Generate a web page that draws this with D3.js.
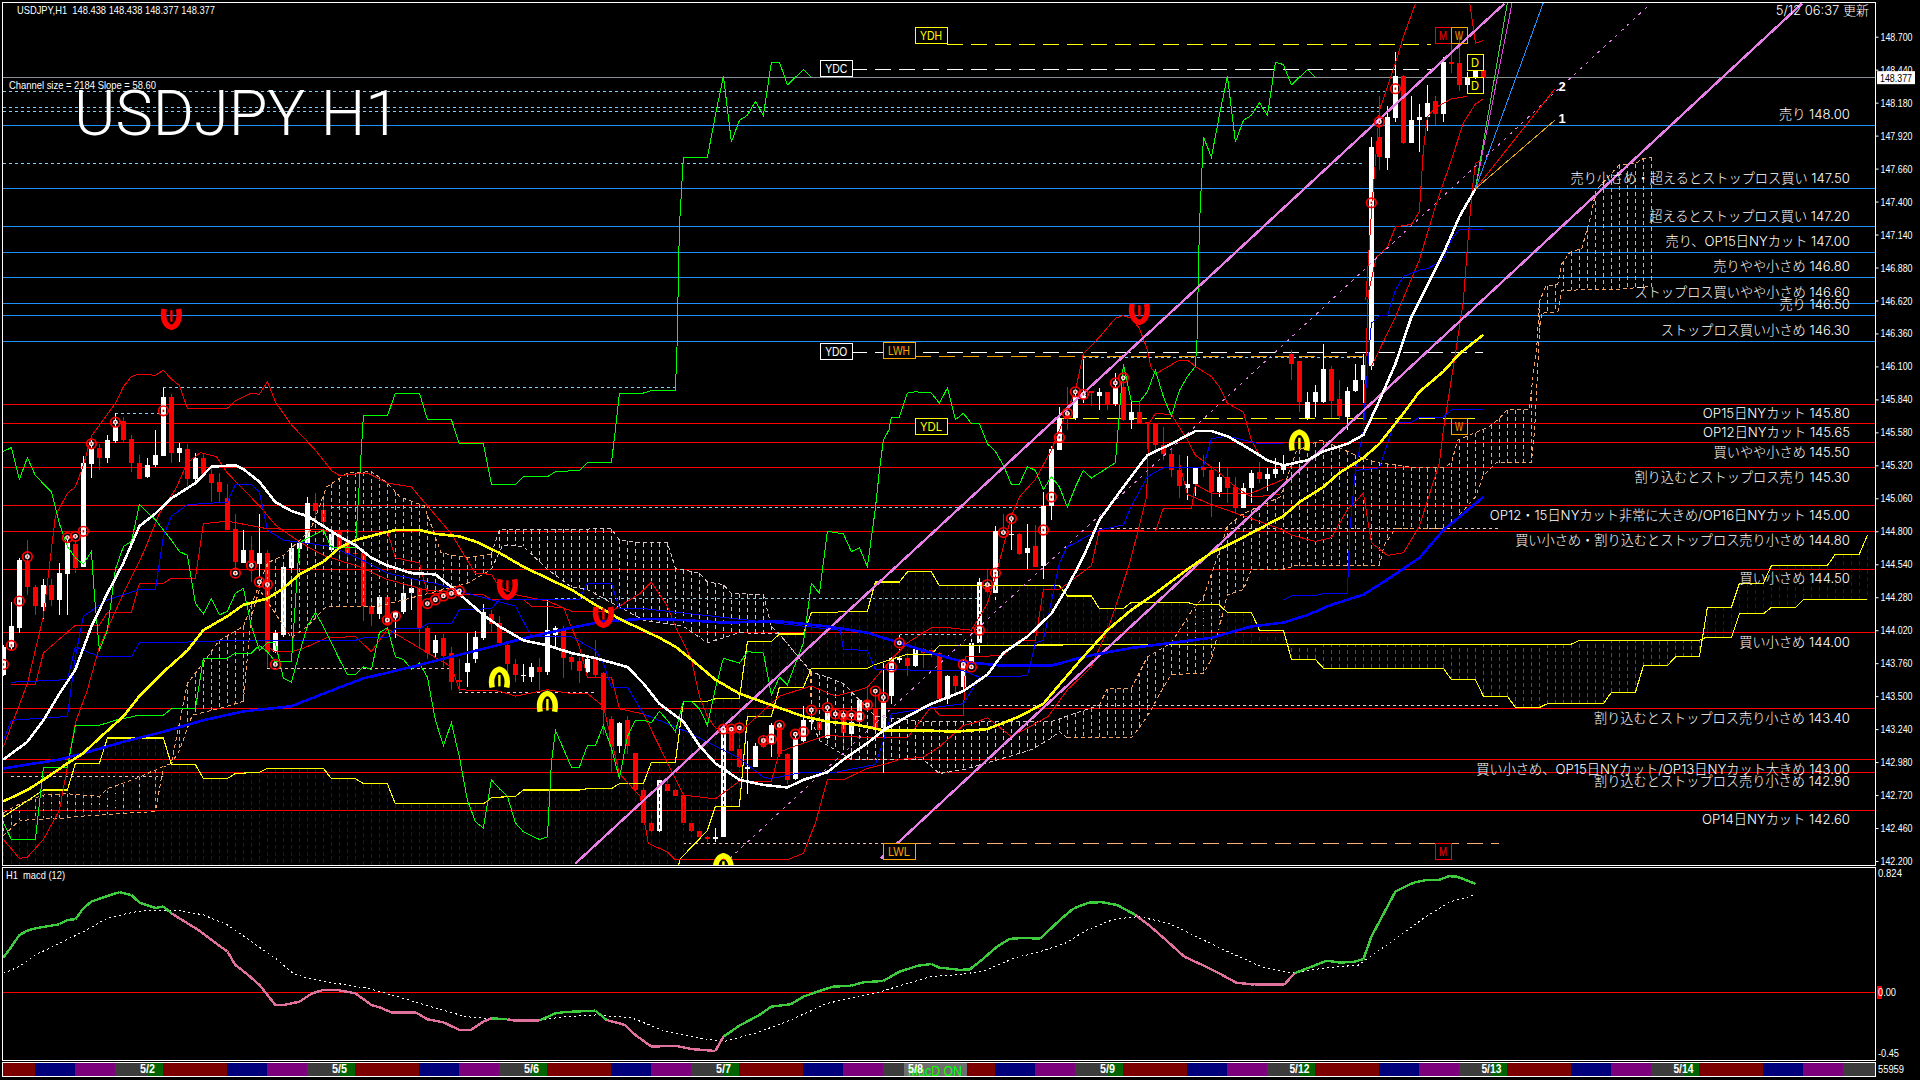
<!DOCTYPE html>
<html><head><meta charset="utf-8">
<script src="https://cdnjs.cloudflare.com/ajax/libs/d3/7.9.0/d3.min.js"></script>
<style>html,body{margin:0;background:#000;overflow:hidden}svg{display:block}</style></head><body>
<svg id="c" width="1920" height="1080"></svg>
<script>
const opens=[143.67,143.89,144.04,144.56,144.36,144.20,144.38,144.26,144.46,144.70,144.52,145.33,145.46,145.38,145.51,145.67,145.53,145.34,145.23,145.32,145.39,145.86,145.42,145.45,145.21,145.38,145.25,145.19,145.06,144.82,144.55,144.65,144.54,144.63,143.85,143.98,144.51,144.66,144.71,145.02,144.97,144.65,144.81,144.73,144.63,144.63,144.21,144.15,144.28,144.13,144.16,144.31,144.35,144.04,143.84,143.96,143.84,143.63,143.69,143.79,143.96,144.15,144.08,143.90,143.75,143.66,143.65,143.73,143.69,143.98,144.02,143.81,143.78,143.69,143.79,143.68,143.32,143.11,143.31,143.05,142.76,142.50,142.44,142.81,142.76,142.72,142.50,142.44,142.39,142.37,142.39,143.23,143.08,142.94,142.94,143.17,143.13,143.27,143.04,142.85,143.15,143.30,143.30,143.17,143.36,143.36,143.20,143.30,143.46,143.40,143.25,143.50,143.79,143.80,143.74,143.87,143.86,143.84,143.48,143.66,143.57,143.77,143.92,144.39,144.31,144.80,144.78,144.78,144.63,144.68,144.53,145.00,145.44,145.73,145.69,145.84,145.91,145.87,145.90,145.80,145.94,145.68,145.74,145.66,145.65,145.48,145.41,145.28,145.14,145.17,145.30,145.28,145.11,145.23,145.15,144.98,145.14,145.27,145.21,145.25,145.28,146.20,146.14,145.69,145.82,145.82,146.08,145.84,145.70,145.91,145.99,146.10,147.91,147.74,148.06,148.39,147.86,148.04,148.07,148.19,148.09,148.50,148.49,148.32,148.38,148.438];
const highs=[143.90,144.24,144.59,144.73,144.38,144.42,144.42,144.55,144.76,144.73,145.39,145.52,145.49,145.56,145.73,145.70,145.56,145.40,145.38,145.60,145.93,145.88,145.50,145.49,145.42,145.42,145.31,145.26,145.17,144.94,144.81,144.76,144.94,144.65,144.02,144.56,144.71,144.72,145.07,145.10,145.06,144.81,144.81,144.82,144.71,144.65,144.26,144.30,144.29,144.17,144.40,144.40,144.36,144.05,143.98,143.99,143.89,143.79,144.00,144.01,144.23,144.18,144.13,143.92,143.79,143.75,143.76,143.80,144.26,144.05,144.05,143.84,143.81,143.81,143.94,143.69,143.34,143.30,143.34,143.05,142.84,142.58,142.86,142.86,142.77,142.73,142.51,142.46,142.40,142.46,143.27,143.26,143.26,143.15,143.13,143.19,143.29,143.30,143.05,143.22,143.42,143.40,143.31,143.43,143.39,143.38,143.36,143.48,143.57,143.55,143.76,143.81,144.00,143.84,143.89,143.88,143.88,143.85,143.67,143.67,143.79,143.98,144.43,144.50,144.84,144.94,144.94,144.79,144.86,144.85,145.11,145.47,145.78,145.94,145.89,146.16,145.91,145.93,145.90,146.05,146.00,145.82,145.82,145.66,145.65,145.62,145.45,145.40,145.39,145.31,145.40,145.30,145.35,145.30,145.23,145.18,145.28,145.35,145.30,145.38,145.40,146.23,146.14,145.90,145.95,146.28,146.10,145.99,145.94,146.12,146.20,147.91,148.23,148.15,148.58,148.40,148.23,148.17,148.32,148.23,148.54,148.69,148.70,148.42,148.44,148.438];
const lows=[143.66,143.86,144.00,144.30,144.14,144.11,144.21,144.14,144.14,144.47,144.52,145.22,145.28,145.34,145.50,145.50,145.27,145.21,145.22,145.31,145.39,145.34,145.35,145.14,145.17,145.23,145.03,145.03,144.81,144.50,144.55,144.40,144.44,143.72,143.84,143.97,144.47,144.63,144.69,144.93,144.86,144.64,144.57,144.50,144.57,144.09,144.05,144.11,144.07,143.96,144.15,144.18,143.88,143.79,143.80,143.73,143.55,143.54,143.57,143.76,143.94,144.00,143.90,143.67,143.61,143.61,143.61,143.55,143.67,143.89,143.64,143.71,143.60,143.68,143.64,143.19,142.90,143.05,143.04,142.76,142.50,142.40,142.42,142.73,142.71,142.48,142.43,142.37,142.35,142.35,142.39,143.06,142.93,142.73,142.94,143.09,143.02,143.02,142.81,142.84,143.14,143.23,143.22,143.16,143.29,143.11,143.11,143.29,143.38,143.23,142.89,143.44,143.76,143.66,143.73,143.72,143.81,143.47,143.44,143.51,143.54,143.76,143.84,144.31,144.26,144.77,144.65,144.61,144.50,144.52,144.42,144.89,145.44,145.60,145.68,145.81,145.79,145.76,145.76,145.79,145.67,145.61,145.65,145.45,145.41,145.36,145.23,145.06,145.05,145.08,145.23,144.91,145.07,145.02,144.94,144.98,145.02,145.18,145.12,145.22,145.25,145.99,145.74,145.68,145.70,145.81,145.69,145.68,145.60,145.90,145.81,146.07,147.65,147.65,148.03,147.85,147.86,147.79,147.96,148.00,148.03,148.41,148.27,148.30,148.37,148.377];
const closes=[143.89,144.05,144.57,144.36,144.21,144.38,144.26,144.47,144.71,144.51,145.34,145.46,145.38,145.52,145.62,145.52,145.34,145.21,145.32,145.40,145.86,145.42,145.46,145.21,145.38,145.25,145.18,145.11,144.81,144.56,144.65,144.55,144.63,143.85,144.00,144.52,144.67,144.71,145.02,144.96,144.87,144.78,144.67,144.62,144.62,144.21,144.15,144.28,144.07,144.16,144.31,144.35,144.04,143.84,143.94,143.82,143.61,143.61,143.76,143.97,144.16,144.07,143.92,143.75,143.67,143.67,143.73,143.69,144.02,144.04,143.80,143.77,143.70,143.79,143.67,143.39,143.11,143.29,143.11,142.76,142.50,142.44,142.84,142.75,142.71,142.50,142.44,142.39,142.37,142.39,143.25,143.07,142.94,142.94,143.11,143.10,143.27,143.04,142.84,143.17,143.31,143.31,143.23,143.38,143.34,143.21,143.30,143.47,143.40,143.25,143.46,143.80,143.80,143.74,143.87,143.84,143.84,143.48,143.66,143.58,143.77,143.92,144.40,144.32,144.80,144.78,144.78,144.62,144.67,144.52,145.00,145.45,145.69,145.69,145.86,145.87,145.89,145.90,145.80,145.94,145.68,145.74,145.65,145.65,145.48,145.41,145.28,145.16,145.17,145.30,145.28,145.11,145.23,145.14,144.98,145.14,145.26,145.21,145.25,145.29,145.33,146.12,145.82,145.82,145.90,146.08,145.83,145.71,145.91,145.99,146.11,147.83,147.75,148.07,148.39,147.86,148.04,148.07,148.18,148.09,148.50,148.49,148.32,148.38,148.43,148.377];

const priceTicks=[148.7,148.44,148.18,147.92,147.66,147.4,147.14,146.88,146.62,146.36,146.1,145.84,145.58,145.32,145.06,144.8,144.54,144.28,144.02,143.76,143.5,143.24,142.98,142.72,142.46,142.2];
const lastPrice=148.377;
const blueLevels=[148,147.5,147.2,147,146.8,146.6,146.5,146.3];
const blueTexts=["売り","売り小さめ・超えるとストップロス買い","超えるとストップロス買い","売り、OP15日NYカット","売りやや小さめ","ストップロス買いやや小さめ","売り","ストップロス買い小さめ"];
const redLevels=[145.8,145.65,145.5,145.3,145,144.8,144.5,144,143.4,143,142.9,142.6];
const redTexts=["OP15日NYカット","OP12日NYカット","買いやや小さめ","割り込むとストップロス売り","OP12・15日NYカット非常に大きめ/OP16日NYカット","買い小さめ・割り込むとストップロス売り小さめ","買い小さめ","買い小さめ","割り込むとストップロス売り小さめ","買い小さめ、OP15日NYカット/OP13日NYカット大きめ","割り込むとストップロス売り小さめ","OP14日NYカット"];

const whiteMA=[[0,143],[3,143.14],[5,143.31],[7,143.52],[9,143.71],[11,144.05],[13,144.31],[15,144.55],[17,144.84],[19,144.94],[21,145.06],[24,145.18],[26,145.31],[29,145.32],[30,145.29],[32,145.19],[34,145.03],[36,144.96],[38,144.92],[40,144.84],[42,144.76],[44,144.69],[46,144.59],[48,144.53],[51,144.47],[54,144.46],[56,144.36],[58,144.25],[60,144.14],[62,144.05],[65,143.94],[68,143.9],[71,143.84],[74,143.8],[78,143.73],[80,143.6],[82,143.44],[85,143.3],[87,143.11],[89,142.97],[92,142.84],[95,142.8],[98,142.78],[100,142.84],[103,142.9],[105,143],[108,143.13],[110,143.23],[113,143.34],[116,143.44],[120,143.54],[123,143.67],[125,143.84],[128,143.97],[131,144.15],[133,144.36],[135,144.6],[137,144.89],[140,145.15],[143,145.4],[146,145.49],[149,145.59],[151,145.59],[153,145.55],[156,145.44],[158,145.36],[160,145.32],[163,145.36],[165,145.43],[168,145.49],[170,145.56],[172,145.83],[174,146.12],[176,146.49],[180,146.99],[182,147.28],[184,147.5]];
const yellowMA=[[0,142.67],[3,142.76],[5,142.84],[8,142.97],[10,143.05],[12,143.17],[15,143.34],[17,143.5],[20,143.69],[23,143.86],[25,144.02],[28,144.13],[30,144.22],[33,144.27],[35,144.35],[37,144.46],[40,144.56],[42,144.67],[44,144.73],[47,144.78],[49,144.81],[52,144.81],[54,144.78],[57,144.76],[59,144.72],[62,144.63],[65,144.52],[68,144.43],[71,144.34],[74,144.22],[77,144.11],[80,144.02],[82,143.96],[84,143.89],[86,143.79],[89,143.63],[92,143.52],[96,143.43],[100,143.34],[103,143.3],[107,143.27],[110,143.23],[115,143.23],[119,143.22],[123,143.24],[127,143.34],[130,143.44],[132,143.59],[135,143.81],[138,144.02],[141,144.18],[144,144.31],[148,144.5],[151,144.63],[154,144.72],[157,144.82],[160,144.92],[162,145.03],[165,145.15],[167,145.26],[170,145.38],[172,145.49],[175,145.73],[177,145.9],[180,146.06],[182,146.2],[185,146.35]];
const blueMA=[[0,142.93],[7,143],[10,143.05],[15,143.14],[20,143.22],[25,143.31],[30,143.38],[36,143.42],[40,143.52],[45,143.64],[51,143.73],[56,143.81],[61,143.89],[66,143.97],[71,144.04],[75,144.09],[80,144.11],[85,144.1],[90,144.08],[97,144.09],[103,144.05],[108,144],[112,143.92],[116,143.84],[120,143.77],[125,143.74],[131,143.74],[135,143.81],[141,143.88],[146,143.92],[151,143.96],[156,144.05],[160,144.08],[163,144.14],[166,144.22],[170,144.3],[173,144.42],[177,144.59],[180,144.81],[185,145.07]];
const greenSpike=[[0,145.43],[1,145.46],[2,145.21],[3,145.38],[4,145.24],[6,145.11],[7,144.86],[8,144.68],[9,144.59],[10,144.54],[11,144.64],[11.4,144.28],[12,143.86],[13,144.02],[14,144.5],[15,144.68],[16,144.72],[17,145.01],[19,144.89],[21,144.73],[22,144.64],[23,144.61],[24,144.23],[25,144.15],[26,144.27],[27,144.14],[28,144.17],[29,144.31],[30,144.35],[31,144.05],[32,143.86],[33,143.92],[34,143.92],[35,143.64],[36,143.61],[37,143.84],[38,144.05],[39,144.16],[40,144.05],[42,143.79],[43,143.67],[44,143.67],[45,143.73],[46,143.71],[47,144],[48,144.04],[49,143.81],[50,143.79],[51,143.71],[52,143.76],[53,143.65],[54,143.31],[55,143.11],[56,143.29],[57,143.02],[58,142.68],[59,142.51],[60,142.46],[61,142.84],[62,142.77],[63,142.71],[64,142.5],[65,142.43],[67,142.37],[68,142.39],[68.5,142.97],[69,143.23],[71,142.94],[72,142.94],[73,143.11],[74,143.11],[75,143.27],[76,143.09],[77,142.85],[78,143.18],[79,143.31],[80,143.31],[81,143.29],[82,143.38],[83,143.31],[84,143.22],[85,143.46],[86,143.46],[87,143.4],[88,143.27],[89,143.56],[90,143.8],[92,143.76],[93,143.85],[95,143.84],[96,143.51],[97,143.65],[98,143.59],[100,143.92],[101,144.39],[102,144.31],[103,144.8],[105,144.78],[106,144.64],[107,144.67],[108,144.52],[109,144.98],[109.5,145.28],[110,145.52],[110.7,145.6],[111,145.7],[112,145.7],[113,145.89],[114,145.9],[116,145.89],[117,145.81],[118,145.93],[119,145.68],[120,145.73],[121,145.65],[122,145.65],[122.3,145.6],[123,145.49],[124,145.43],[125,145.32],[126,145.17],[127,145.17],[128,145.31],[129,145.28],[130,145.13],[131,145.23],[132,145.15],[133,144.99],[134,145.15],[135,145.28],[136,145.22],[139,145.34],[139.6,145.81],[140,146.12],[141,145.82],[142,145.82],[143,145.9],[144,146.07],[145,145.86],[146,145.71],[147,145.91],[148,146.02],[149,146.1],[149.2,146.31],[149.5,147.2],[150,147.91],[151,147.75],[152,148.08],[153,148.39],[154,147.87],[155,148.04],[156,148.08],[157,148.18],[158,148.08],[159,148.5],[160,148.48],[161,148.32],[163,148.44],[164,148.38]];
const greenStep=[[0,142.5],[1,142.37],[4,142.37],[5,142.94],[8,142.94],[9,143.27],[12,143.27],[14,143.31],[17,143.35],[20,143.35],[21,143.4],[24,143.4],[25,143.8],[28,143.8],[29,143.84],[31,143.84],[32,143.9],[33,143.85],[34,143.77],[36,143.77],[37,144.71],[40,144.81],[41,144.67],[44,144.67],[45,145.71],[48,145.71],[49,145.89],[52,145.89],[53,145.68],[56,145.68],[57,145.49],[60,145.49],[61,145.17],[64,145.17],[65,145.23],[68,145.23],[69,145.27],[72,145.28],[73,145.34],[76,145.34],[76.5,145.6],[77,145.89],[80,145.89],[81,145.91],[84,145.91],[84.2,146.25],[84.5,147.2],[85,147.75],[88,147.75],[89,148.08],[90,148.39],[91,147.87],[92,148.04],[93,148.08],[94,148.19],[95,148.08],[96,148.5],[97,148.5],[98,148.32],[100,148.44],[101,148.38]];
const redUpper=[[0,143.1],[3,143.6],[5,144.13],[6.5,144.92],[8,145.1],[9,145.15],[10,145.32],[11,145.55],[14,145.81],[15,145.94],[16,146.02],[17,146.04],[19,146.03],[20,146.07],[21,146],[22,145.95],[23,145.77],[28,145.77],[29,145.83],[31,145.89],[32,145.88],[33,145.98],[34,145.82],[36,145.64],[39,145.44],[41,145.28],[42,145.24],[45.5,145.26],[48,145.18],[51,145.15],[53,145],[56,144.78],[58,144.57],[59,144.47],[61,144.46],[62,144.36],[64,144.3],[68,144.25],[71,144.17],[76,144.17],[79.6,144.31],[81,144.4],[83,144.21],[84,144.05],[86,143.79],[87,143.5],[88,143.34],[89,143.25],[92,143.22],[93,143.27],[97,143.5],[101,143.58],[104,143.5],[107,143.55],[108,143.57],[111,143.79],[113,143.92],[116,144.04],[118,144.04],[121,144.02],[123,144.23],[124,144.44],[126,144.92],[127,145.07],[129,145.21],[131,145.44],[134,145.91],[135,146.2],[137,146.33],[139,146.48],[140,146.5],[141,146.48],[142,146.4],[143,146.23],[143.4,146.1],[144,146.04],[147,146.15],[148,146.15],[149,146.1],[151,146.02],[152,145.94],[153,145.81],[155,145.74],[156,145.52],[157,145.4]];
const redInner=[[0,142.37],[2,142.22],[3,142.23],[5,142.37],[7,142.6],[8,142.94],[9,143.29],[10.5,143.55],[12,143.89],[15,144.31],[17.5,144.63],[19.5,144.94],[21.5,145.13],[23,145.34],[24.6,145.42],[26.6,145.39],[28,145.26],[30,145.13],[32,145],[34,144.85],[36,144.76],[38,144.68],[40,144.61],[44.5,144.52],[48,144.42],[52.6,144.34],[57,144.31]];
const redLower=[[33,143.89],[34,143.85],[36,143.85],[37.6,143.88],[40.4,143.96],[44,143.97],[46,143.85],[48,144.03],[52,143.88],[56,143.73],[57,143.55],[62,143.54],[64,143.5],[68,143.55],[71,143.52],[73,143.52],[75,143.42],[77,142.89],[79.6,142.71],[80.6,142.34],[83,142.27],[84,142.21],[98,142.21],[100,142.26],[101.5,142.5],[103,142.84],[105,142.84],[108,142.93],[110.5,142.97],[112,143],[115,143.02],[117,143.1],[120,143.27],[121.4,143.29],[123,143.33],[126,143.18],[128.6,143.27],[130.6,143.34],[133,143.55],[136,143.73],[138.3,144.07],[140.8,144.55],[142.9,145.07],[143.2,145.65],[144,145.73],[146,145.72],[148,145.52],[149,145.4],[152,145.26],[154,145.15],[156,145.07],[159.6,145.09]];
const redLateLower=[[147,145.34],[148,145.09],[151,145.01],[156,144.9],[160,144.81],[161,144.77],[164,144.72],[166,144.75],[168,144.97],[170,145.1],[171,144.71],[173,144.61],[175,144.63],[177,144.84],[179.5,145.34],[180,145.6],[181.5,146.2],[182.5,146.62],[183,147.04],[183.6,147.49],[184,147.7],[184.8,147.73]];
const redLateMid=[[170,145.6],[170.6,146.67],[171.6,146.96],[173,147.04],[174,147.2],[176,147.22],[177,147.32],[177.5,147.81],[178,148.07],[179,148.14],[181,148.21],[183,148.23]];
const redLateUpper=[[183.3,148.96],[183.8,148.74],[184,148.65],[185,148.67]];
const redRise=[[171,146.1],[174,146.49],[177,146.94],[179,147.36],[181,147.73],[182.5,148.02],[184,148.17],[185,148.21]];
const redTop=[[170.3,146.62],[171,147.31],[172,148.12],[174,148.49],[175,148.7],[176.5,148.96]];
const redStep=[[1,143.59],[4,143.59],[5,143.84],[9,144.06],[12,144.06],[13,144.16],[16,144.16],[17,144.39],[20,144.39],[21,144.43],[24,144.43],[25,144.86],[28,144.88],[33,144.82],[40,144.81],[44,144.8],[48,144.8],[49,144.59],[52,144.55],[53,144.31],[60,144.3],[61,144.26],[65,144.26],[66,144.21],[70,144.2],[72,143.89],[73,143.65],[76,143.65],[77,143.4],[80,143.36],[85,142.72],[89,142.69],[92,142.83],[96,142.83],[97,143.06],[100,143.13],[103,143.19],[109,143.17],[113,143.17],[116,143.42],[117,143.35],[120,143.35],[120.3,143.81],[125,143.82],[127,143.94],[129,143.94],[130,144.34],[132,144.34],[136,144.53],[137,144.81],[144,144.8],[145,144.98],[148.5,144.98],[149,145.17],[151,145.1],[156,145.1],[160,145.21]];
const blueThinA=[[0,143.15],[1,143.31],[8,143.34],[9,143.81],[10,144.13],[13,144.26],[17,144.34],[19,144.34],[20,144.76],[21,144.92],[23,145.01],[28,145.03],[29,145.17],[31,145.17],[32,145.11],[33,144.81],[35,144.73],[41,144.68],[45,144.57],[48,144.47],[53,144.4],[54,144.39],[58,144.31],[61,144.26],[64,144.21],[66,143.97],[71,143.97],[74,143.86],[75,143.76],[76,143.57],[78,143.57],[80,143.36],[85,143.23],[92,143.01],[95,142.86],[96,142.85],[100,142.9],[104,142.9],[109,142.96],[110,143.15],[111,143.36],[115,143.4],[120,143.44],[122,143.65],[128,143.66],[129,143.92],[130,143.94],[132,144.55],[133,144.68],[134,144.71],[137,144.81],[140,144.85],[141,145],[143,145.23],[145,145.3],[149,145.3],[150,145.31],[151,145.53],[153,145.55],[157,145.49],[160,145.49]];
const blueThinB=[[1,143.61],[8,143.63],[9,143.89],[12,143.81],[16,143.81],[17,143.92],[20,143.92],[29,143.94],[44,143.94],[45,143.96],[48,143.96],[49,144.03],[52,144.03],[53,144.07],[56,144.07],[57,144.18],[61,144.19],[62,144.26],[72,144.26],[73,144.39],[76,144.39],[77,144.19],[80,144.19],[104.6,144.02],[105,143.87],[108,143.86],[109,143.71],[120,143.7],[122,143.65]];
const blueThinC=[[160,144.26],[161,144.29],[164,144.29],[165,144.31],[168,144.31],[168.3,144.81],[169,145.28],[172,145.3],[173.6,145.6],[174,145.66],[176,145.66],[177,145.7],[180,145.7],[181,145.76],[185,145.76]];
const blueThinD=[[169,145.28],[170,145.6],[170.3,145.91],[171,146.44],[172,146.5],[173,146.5],[174,146.7],[175,146.81],[177,146.86],[178,146.87],[180,146.94],[181,147.1],[182,147.18],[185,147.18]];
const spanA=[[0,142.55],[5,142.76],[8,142.76],[9,142.97],[12,142.97],[13,143.17],[20,143.17],[21,142.96],[24,142.96],[25,142.85],[28,142.85],[29,142.89],[32,142.9],[33,142.93],[40,142.93],[41,142.85],[44,142.85],[45,142.81],[48,142.81],[49,142.65],[56,142.65],[57,142.65],[60,142.65],[61,142.7],[64,142.71],[65,142.76],[72,142.76],[73,142.77],[76,142.77],[77,142.81],[80,142.81],[81,142.98],[84,142.98],[85,143.46],[88,143.46],[89,143.48],[92,143.48],[93,143.93],[96,143.93],[97,143.99],[100,143.99],[101,144.16],[104,144.16],[105,144.17],[108,144.17],[109,144.4],[112,144.4],[113,144.48],[116,144.48],[117,144.37],[132,144.37],[133,144.29],[136,144.29],[137,144.19],[140,144.19],[141,144.24],[148,144.24],[149,144.22],[152,144.22],[153,144.16],[156,144.16],[157,144.02],[160,144.02],[160.5,143.91],[161,143.79],[164,143.79],[165,143.72],[180,143.72],[181,143.63],[184,143.63],[185,143.5],[188,143.5],[189,143.41],[192,143.41],[193,143.44],[200,143.44],[201,143.53],[204,143.53],[205,143.74],[208,143.74],[209,143.81],[212,143.81],[213,144.2],[216,144.2],[217,144.39],[220,144.39],[221,144.53],[228,144.53],[229,144.62],[232,144.62],[233,144.77]];
const spanB=[[0,141.9],[84,141.9],[84.5,142.21],[88,142.44],[89,142.63],[92,142.63],[93,143.34],[96,143.34],[97,143.57],[100,143.57],[101,143.72],[108,143.72],[109,143.75],[113,143.83],[116,143.83],[117,143.9],[160,143.91],[196,143.91],[197,143.94],[212,143.94],[212.7,143.96],[216,143.96],[217,144.15],[220,144.15],[221,144.2],[224,144.2],[225,144.26],[233,144.26]];
const htfUpper=[[0,142.58],[2,142.65],[5,142.72],[8,142.73],[12,142.71],[13,142.77],[17,142.86],[19,142.92],[21,142.97],[21.3,143.07],[23,143.6],[24.6,143.73],[27,143.94],[30,144.05],[33,144.55],[35,144.61],[38.4,144.81],[40.4,145.15],[43,145.26],[46,145.27],[48,145.18],[49.6,145.07],[52.6,145],[53.7,144.81],[54.7,144.63],[58,144.59],[61,144.62],[62,144.81],[76,144.82],[77,144.73],[79.6,144.71],[83,144.71],[84,144.51],[87,144.47],[88,144.4],[90,144.38],[91,144.31],[95,144.3],[96,144.05],[97,143.99],[101,143.69],[103,143.65],[105,143.6],[109,143.34],[115,143.3],[131,143.3],[137,143.43],[138,143.56],[141,143.56],[143,143.81],[146,143.92],[148.5,144.17],[150,144.28],[151.5,144.55],[153,144.84],[155,144.94],[159.6,145.07],[161.6,145.43],[164.7,145.52],[168,145.43],[169.8,145.38],[171.8,145.34],[177,145.3],[180,145.3],[181,145.34],[181.8,145.52],[185.6,145.62],[187,145.69],[188,145.76],[190.7,145.76],[191.7,146.28],[192,146.61],[192.8,146.73],[194.3,146.75],[194.8,146.91],[195.8,147],[197.3,147.03],[198.4,147.28],[199.1,147.49],[202,147.69],[204,147.7],[205,147.74],[206,147.75]];
const htfLower=[[0,142.4],[2,142.52],[8,142.54],[9,142.55],[16,142.58],[19,142.59],[20,142.94],[21,142.97],[22,143.07],[23.6,143.35],[28,143.42],[30,143.46],[30.5,143.81],[31,144.13],[32,144.34],[36,143.96],[38,144.05],[40.4,144.21],[47,144.21],[58,144.39],[61,144.5],[62.4,144.69],[65,144.68],[68,144.5],[71,144.36],[73,144.34],[80,144.1],[85,144.05],[88,143.92],[92,144],[97,143.99],[100.9,143.69],[101,143.31],[102,143.15],[106,143],[115,143],[117,142.89],[120,142.92],[125,143.01],[128.6,143.08],[131,143.17],[132,143.22],[133,143.17],[141,143.17],[143,143.34],[145,143.57],[146,143.67],[150,143.68],[151,143.79],[153,144.3],[155,144.34],[156,144.5],[160,144.5],[161.6,144.53],[172,144.53],[172.6,144.69],[174,144.82],[180.5,144.82],[184,145.07],[185,145.24],[186.6,145.34],[191,145.34],[191.4,145.6],[192,146.36],[192.3,146.52],[194.3,146.53],[194.8,146.7],[202,146.71],[206,146.73]];
const htfBearRanges=[[61,97],[101,132]];
const cyanLevels=[[0,173,148.27],[0,172,148.14],[0,172,148.11],[0,170,147.7],[20,84,145.93],[14,20,145.73],[135,170,146.17],[41,130,144.99],[69,122,144.27],[112,120,143.99]];
const pinkLevels=[[33,56,143.72],[57,74,143.53],[1,20,142.87],[122,187,143.43],[85,114,142.34],[137,187,144.82]];
const dashLevels=[[106,178.5,148.44,"#fff"],[118,178.5,148.64,"#ff0"],[106,185,146.21,"#fff"],[114,170,146.18,"orange"],[132,184,145.69,"#ff0"],[114,187,142.34,"#ffb070"]];
const tagNames=["YDH","YDC","YDO","LWH","YDL","LWL","M","W","M","D","D","W"];
const tagBars=[113.95,102.1,102.1,109.95,113.95,109.95,178.95,180.95,178.95,182.95,182.95,180.95];
const tagPrices=[148.77,148.51,146.28,146.29,145.69,142.34,148.77,148.77,142.34,148.56,148.38,145.69];
const tagColors=["#ff0","#fff","#fff","orange","#ff0","orange","#f00","orange","#f00","#ff0","#ff0","orange"];
const ringMarks=[[0,143.75],[1,143.9],[2,144.25],[3,144.6],[8,144.75],[9,144.76],[10,144.8],[11,145.49],[14,145.66],[20,145.75],[29,144.47],[31,144.53],[32,144.4],[33,144.38],[34,143.75],[48,144.1],[49,144.13],[53,144.23],[54,144.26],[55,144.29],[56,144.31],[57,144.33],[90,143.24],[91,143.24],[92,143.25],[95,143.15],[96,143.16],[97,143.27],[99,143.2],[100,143.22],[101,143.39],[103,143.41],[104,143.36],[105,143.35],[106,143.35],[107,143.34],[108,143.43],[109,143.54],[110,143.49],[111,143.73],[112,143.92],[120,143.75],[121,143.73],[122,144.02],[123,144.38],[124,144.47],[125,144.79],[126,144.9],[130,144.81],[131,145.07],[132,145.54],[133,145.73],[134,145.9],[135,145.88],[139,145.97],[140,146.01],[171,147.39],[172,148.03],[174,148.29]];
const sellArrows=[[21,146.48],[142,146.52],[63,144.35],[75,144.13]];
const buyArrows=[[62,143.64],[68,143.45],[162,145.51],[90,142.17]];
const channelLines=[[71.5,142.18,187.6,148.96],[109.7,142.22,224.8,148.96]];
const channelMid=[90.8,142.22,205.9,148.96];
const fanOrigin=[184,147.5];
const fanEnds=[[188.6,148.97,"#e040e0"],[188,148.97,"#40d040"],[192.5,148.97,"#1e90ff"],[193.9,148.285,"#f00"],[193.9,148.04,"#daa520"]];
const fanLabels=[["2",148.3],["1",148.05]];
const macdLine=[[0,.24],[1,.316],[2,.397],[3,.427],[4,.443],[6,.462],[7,.471],[8,.501],[9,.506],[10,.582],[11,.628],[13,.667],[14.5,.693],[16,.674],[17,.621],[19,.584],[20,.594],[21,.547],[23,.478],[24.5,.427],[26,.363],[28,.282],[29,.189],[30.6,.12],[32,.051],[33,-.018],[34,-.088],[35,-.088],[37,-.065],[38.6,-.007],[40,.016],[41.7,.016],[44,-.007],[46,-.088],[47,-.104],[48.6,-.141],[51.6,-.141],[53,-.187],[55,-.208],[57,-.261],[58.4,-.261],[60,-.203],[61,-.18],[63,-.187],[64,-.196],[67,-.196],[69,-.145],[70.4,-.136],[74,-.127],[75.4,-.192],[77.7,-.226],[79,-.296],[81,-.376],[84,-.37],[86,-.393],[89,-.406],[90,-.307],[92,-.231],[94.5,-.157],[96,-.099],[98.4,-.083],[100,-.03],[102,.009],[103.7,.039],[106,.046],[107.5,.069],[110,.079],[112,.143],[114.4,.185],[116,.196],[117,.171],[119.6,.155],[120.8,.159],[122.3,.224],[124.2,.316],[125.8,.37],[127.3,.376],[129.6,.372],[132.3,.513],[133.8,.582],[135.7,.621],[137.3,.624],[139.2,.605],[141.5,.536],[143.4,.455],[145.3,.363],[147.6,.247],[150.3,.178],[151.8,.136],[154.1,.067],[156.4,.053],[160.1,.053],[161.4,.132],[163.3,.173],[165.4,.219],[167.1,.206],[168.7,.21],[170,.229],[171,.386],[174,.697],[176.3,.76],[177.9,.778],[179.4,.778],[180.7,.804],[181.7,.801],[184,.751]];
const macdSignal=[[0,.132],[2,.178],[4,.259],[7,.339],[10,.42],[13,.513],[16,.552],[18,.57],[22,.566],[25,.536],[28,.467],[31,.351],[34,.236],[36.3,.127],[38.6,.09],[42.4,.055],[45.5,.028],[49.3,-.03],[53,-.092],[57.8,-.169],[60.8,-.182],[67,-.196],[70,-.169],[74,-.157],[78.5,-.176],[82.3,-.261],[86,-.307],[90,-.342],[94,-.284],[98.4,-.192],[103,-.076],[109,-.007],[113,.062],[116,.109],[119.6,.122],[122.7,.15],[126.5,.24],[129.2,.275],[132.7,.339],[135.3,.427],[138.8,.506],[141.9,.524],[145.7,.478],[148.7,.397],[152.6,.293],[157.2,.178],[161,.132],[164.8,.166],[169.4,.189],[173.2,.339],[177.8,.524],[180.9,.628],[184,.674]];
const dayLabels=["5/2","5/5","5/6","5/7","5/8","5/9","5/12","5/13","5/14"];
const sessionColors=["#006400","#7c0000","#00007c","#7c007c","#3c3c3c"];
const sessionBars=[2,8,5,5,4];

const svg=d3.select("#c");
const SMALL="'Liberation Sans',sans-serif";
const JP="Inter,'Noto Sans CJK JP',sans-serif";
const x=d3.scaleLinear().domain([0,185]).range([3.4,1483.4]);
const y=d3.scaleLinear().domain([142.2,148.7]).range([861,36.7]);
const m=d3.scaleLinear().domain([0,.824]).range([992.3,873.3]);
const L=[3,1875], TOP=3, BOT=865, MT=867, MB=1060, ST=1062, SB=1076;
const defs=svg.append("defs");
defs.append("clipPath").attr("id","cm").append("rect").attr("x",L[0]).attr("y",TOP).attr("width",L[1]-L[0]).attr("height",BOT-TOP);
defs.append("clipPath").attr("id","cs").append("rect").attr("x",L[0]).attr("y",ST).attr("width",L[1]-L[0]).attr("height",SB-ST);
const main=svg.append("g").attr("clip-path","url(#cm)").style("shape-rendering","crispEdges");
const line=d3.line().x(d=>x(d[0])).y(d=>y(d[1]));
const at=s=>d3.scaleLinear(s.map(d=>d[0]),s.map(d=>d[1]));
const hline=(g,p,a,b,col,w,dash)=>g.append("line").attr("x1",a).attr("x2",b).attr("y1",y(p)).attr("y2",y(p)).attr("stroke",col).attr("stroke-width",w).attr("stroke-dasharray",dash||null);
const path=(g,s,col,w,dash)=>g.append("path").attr("d",line(s)).attr("fill","none").attr("stroke",col).attr("stroke-width",w).attr("stroke-dasharray",dash||null);

hline(main,lastPrice,L[0],L[1],"#8a9098",1);
blueLevels.forEach(p=>hline(main,p,L[0],L[1],"#1e90ff",1));
redLevels.forEach(p=>hline(main,p,L[0],L[1],"#ff0000",1));
cyanLevels.forEach(d=>hline(main,d[2],x(d[0]),x(d[1]),"#87cefa",1,"3 3"));
pinkLevels.forEach(d=>hline(main,d[2],x(d[0]),x(d[1]),"#ffc0c0",1,"3 3"));
dashLevels.forEach(d=>hline(main,d[2],x(d[0]),x(d[1]),d[3],1.2,"16 8"));

const bars=d3.range(opens.length);
const cg=main.append("g");
cg.selectAll("line").data(bars).join("line").attr("x1",i=>x(i)).attr("x2",i=>x(i)).attr("y1",i=>y(highs[i])).attr("y2",i=>y(lows[i])).attr("stroke",i=>closes[i]>=opens[i]?"#fff":"#f00").attr("stroke-width",1);
cg.selectAll("rect").data(bars).join("rect").attr("x",i=>x(i)-2.5).attr("width",5).attr("y",i=>y(Math.max(opens[i],closes[i]))).attr("height",i=>Math.max(1.5,Math.abs(y(opens[i])-y(closes[i])))).attr("fill",i=>closes[i]>=opens[i]?"#fff":"#f00");

const hg=main.append("g");
const upH=at(htfUpper), loH=at(htfLower);
const isBear=i=>htfBearRanges.some(r=>i>=r[0]&&i<=r[1]);
d3.range(0,207).forEach(i=>{hg.append("line").attr("x1",x(i)).attr("x2",x(i)).attr("y1",y(upH(i))).attr("y2",y(loH(i))).attr("stroke",isBear(i)?"#d8c4c4":"#f4a460").attr("stroke-width",1).attr("stroke-dasharray","4 3");});
const split=(s)=>{let seg=[],prev=null;s.forEach(d=>{const b=isBear(d[0]);if(prev!==null&&b!==prev){seg.push(d);path(hg,seg,prev?"#d8c4c4":"#f4a460",1,"4 3");seg=[];}seg.push(d);prev=b;});path(hg,seg,prev?"#d8c4c4":"#f4a460",1,"4 3");};
split(htfUpper);split(htfLower);

const upI=at(spanA), loI=at(spanB);
d3.range(0,234).forEach(i=>{const a=upI(i),b=loI(i);hg.append("line").attr("x1",x(i)).attr("x2",x(i)).attr("y1",y(a)).attr("y2",y(b)).attr("stroke",a>b?"#0000ff":"#ff0000").attr("stroke-width",1).attr("stroke-dasharray","4 3");});
path(main,spanA,"#ffff00",1.1);path(main,spanB,"#ffff00",1.1);

[redUpper,redInner,redLower,redLateLower,redLateMid,redLateUpper,redRise,redTop,redStep].forEach(s=>path(main,s,"#f00000",1));
[blueThinA,blueThinB,blueThinC,blueThinD].forEach(s=>path(main,s,"#0000ff",1));
[greenSpike,greenStep].forEach(s=>path(main,s,"#00ff00",1));

channelLines.forEach(c=>path(main,[[c[0],c[1]],[c[2],c[3]]],"#e67ee6",2.4));
path(main,[[channelMid[0],channelMid[1]],[channelMid[2],channelMid[3]]],"#e67ee6",1,"3 5");
fanEnds.forEach(f=>path(main,[fanOrigin,[f[0],f[1]]],f[2],1));

path(main,blueMA,"#0000ff",2.6);path(main,yellowMA,"#ffff00",2.6);path(main,whiteMA,"#ffffff",2.6);

const rg=main.append("g").style("shape-rendering","auto");
ringMarks.forEach(d=>{const g=rg.append("g").attr("transform",`translate(${x(d[0])},${y(d[1])})`);
 g.append("circle").attr("r",4.8).attr("fill","none").attr("stroke","#f00").attr("stroke-width",1.7);
 g.append("circle").attr("r",2.4).attr("fill","#fff");
 g.append("rect").attr("x",-.8).attr("y",-1.2).attr("width",1.6).attr("height",2.4).attr("fill","#f00");});
const arrow=(d,col,flip)=>{const g=rg.append("g").attr("transform",`translate(${x(d[0])},${y(d[1])}) scale(1.2,${flip?-1.15:1.15})`);
 g.append("path").attr("d","M-6,-8 C-8,2 -4,7 0,8 C4,7 8,2 6,-8").attr("fill","none").attr("stroke",col).attr("stroke-width",4.6);
 g.append("line").attr("x1",0).attr("x2",0).attr("y1",-7).attr("y2",3).attr("stroke",col).attr("stroke-width",2);};
sellArrows.forEach(d=>arrow(d,"#f00",false));
buyArrows.forEach(d=>arrow(d,"#ff0",true));

const squeezed=(sel,len)=>sel.attr("textLength",len).attr("lengthAdjust","spacingAndGlyphs");
tagNames.forEach((t,i)=>{const w=t.length>1?32:16,X=x(tagBars[i]),Y=y(tagPrices[i]);
 main.append("rect").attr("x",X).attr("y",Y).attr("width",w).attr("height",16).attr("fill","#000").attr("fill-opacity",t.length>1?1:0).attr("stroke",tagColors[i]).attr("stroke-width",1);
 squeezed(main.append("text").attr("x",X+w/2).attr("y",Y+12.5).attr("text-anchor","middle").attr("fill",tagColors[i]).attr("font-family",SMALL).attr("font-size",13).text(t),t.length>1?22:8);});

const fmt2=d3.format(".2f");
const label=(t,p,off)=>svg.append("text").attr("x",1850).attr("y",y(p)+off+5).attr("text-anchor","end").attr("fill","#fff").attr("font-family",JP).attr("font-size",13.2).attr("font-weight",300).text(t+" "+fmt2(p));
blueLevels.forEach((p,i)=>label(blueTexts[i],p,-11.3));
redLevels.forEach((p,i)=>label(redTexts[i],p,9));
fanLabels.forEach(d=>svg.append("text").attr("x",1562).attr("y",y(d[1])+4).attr("fill","#fff").attr("font-family",SMALL).attr("font-weight",700).attr("font-size",13).attr("text-anchor","middle").text(d[0]));

const txt=(t,X,Y,o={})=>{const s=svg.append("text").attr("x",X).attr("y",Y).attr("fill",o.c||"#fff").attr("font-family",o.f||SMALL).attr("font-size",o.s||11).attr("text-anchor",o.a||"start").attr("font-weight",o.w||400).style("white-space","pre").text(t);if(o.len)squeezed(s,o.len);return s;};
txt("USDJPY,H1  148.438 148.438 148.377 148.377",17,14,{len:198,s:10.5});
txt("Channel size = 2184 Slope = 58.60",9,89,{len:147,s:10.5});
txt("USDJPY H1",74,135,{f:"Roboto,sans-serif",s:63,w:300});
txt("5/12 06:37 更新",1869,15,{a:"end",f:JP,s:13,w:300});

const mg=svg.append("g").style("shape-rendering","crispEdges");
mg.append("line").attr("x1",L[0]).attr("x2",L[1]).attr("y1",m(0)).attr("y2",m(0)).attr("stroke","#f00").attr("stroke-width",1.6);
const sigAt=at(macdSignal);
const mline=d3.line().x(d=>x(d[0])).y(d=>m(d[1]));
mg.append("path").attr("d",mline(macdSignal)).attr("fill","none").attr("stroke","#fff").attr("stroke-width",1).attr("stroke-dasharray","2 3");
macdLine.slice(1).forEach((d,i)=>{const p=macdLine[i];mg.append("path").attr("d",mline([p,d])).attr("fill","none").attr("stroke-width",2.4).attr("stroke",(d[1]+p[1])/2>=(sigAt(d[0])+sigAt(p[0]))/2?"#3ccc3c":"#e0709c");});
txt("H1  macd (12)",6,879,{len:59});
txt("0.824",1878,877,{len:24});
mg.append("rect").attr("x",1877).attr("y",986).attr("width",5).attr("height",13).attr("fill","#f00");
txt("0.00",1878,996,{len:18});
txt("-0.45",1878,1057,{len:21});

const sg=svg.append("g").attr("clip-path","url(#cs)").style("shape-rendering","crispEdges");
const dayStart=18;
d3.range(-1,dayLabels.length).forEach(k=>{let b=dayStart+24*k;sessionBars.forEach((n,j)=>{sg.append("rect").attr("x",x(b)).attr("y",ST).attr("width",x(b+n)-x(b)).attr("height",SB-ST).attr("fill",sessionColors[j]);b+=n;});});
sg.append("rect").attr("x",904).attr("y",ST).attr("width",63).attr("height",SB-ST).attr("fill","#6e6e6e");
txt("MacD ON",908,1076,{c:"#00ff00",s:15,len:54});
dayLabels.forEach((d,k)=>txt(d,x(dayStart+24*k),1073,{a:"middle",w:700,s:12,len:d.length>3?20:15}));
txt("55959",1878,1073,{len:26});

const frame=(a,b)=>svg.append("rect").attr("x",2.5).attr("y",a).attr("width",1873).attr("height",b-a).attr("fill","none").attr("stroke","#fff").attr("stroke-width",1).style("shape-rendering","crispEdges");
frame(2.5,865);frame(867,1060);frame(1062,1076);

const ax=svg.append("g").attr("transform","translate(1875.5,0)").call(d3.axisRight(y).tickValues(priceTicks).tickFormat(d3.format(".3f")).tickSize(3).tickPadding(2));
ax.select(".domain").remove();
ax.selectAll("line").attr("stroke","#fff");
ax.selectAll("text").attr("fill","#fff").attr("font-family",SMALL).attr("font-size",11).attr("textLength",32).attr("lengthAdjust","spacingAndGlyphs");
svg.append("rect").attr("x",1877).attr("y",y(lastPrice)-6.5).attr("width",38).attr("height",13).attr("fill","#fff");
squeezed(svg.append("text").attr("x",1880).attr("y",y(lastPrice)+4).attr("fill","#000").attr("font-family",SMALL).attr("font-size",11).text(d3.format(".3f")(lastPrice)),32);
</script></body></html>
